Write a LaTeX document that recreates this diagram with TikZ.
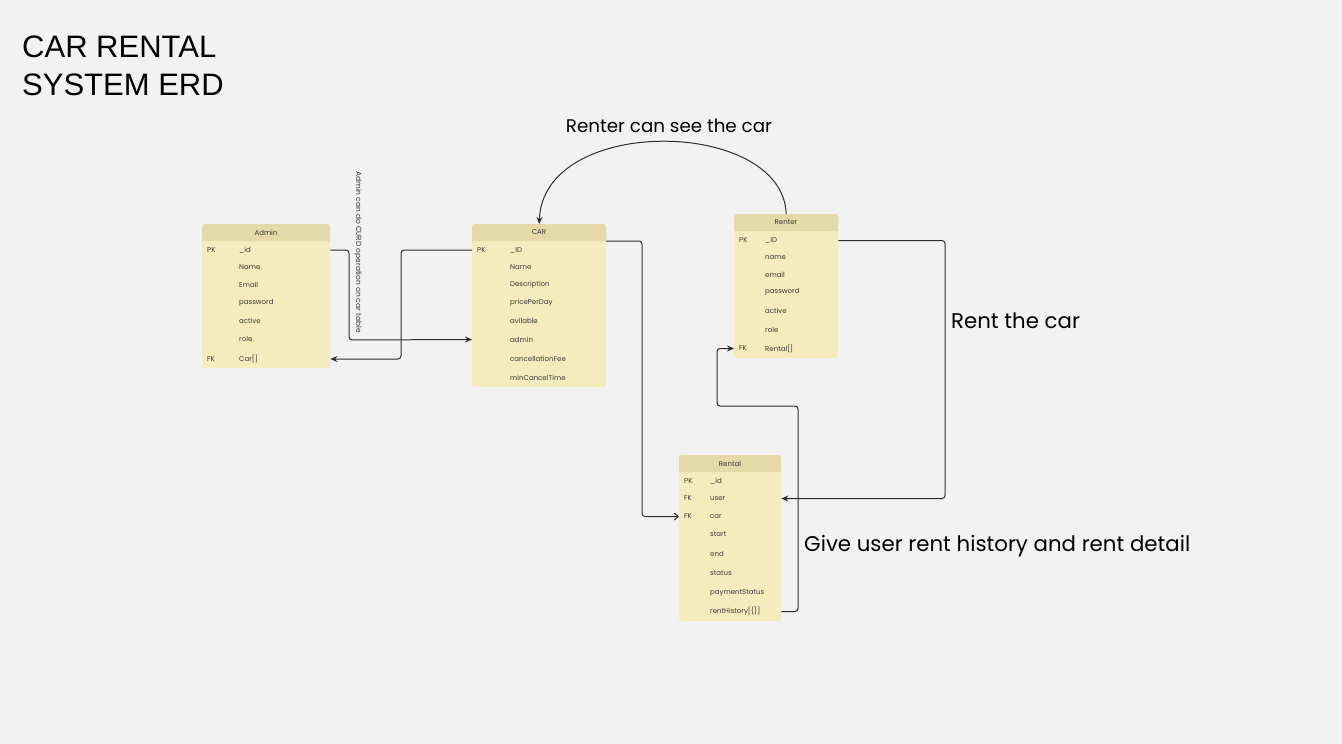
\documentclass[tikz,border=0pt]{standalone}
\usepackage{fontspec}
\setmainfont{Poppins}
\newfontfamily\titlefont{Liberation Sans}
\usetikzlibrary{arrows.meta}
\definecolor{bg}{HTML}{F2F2F2}
\definecolor{body}{HTML}{F6EBBC}
\definecolor{hdr}{HTML}{E4D9A7}
\definecolor{ink}{HTML}{2E2E2E}
\definecolor{txt}{HTML}{3A3A3A}
\tikzset{
  tbl/.style={fill=body, rounded corners=3pt, inner sep=0pt, anchor=north west},
  hdrtxt/.style={font=\fontsize{7}{8}\selectfont, text=txt, inner sep=0pt},
  fld/.style={font=\fontsize{7}{8}\selectfont, text=txt, inner sep=0pt, anchor=west},
  conn/.style={draw=ink, line width=1pt, rounded corners=3pt},
  tip/.style={-{Stealth[length=7pt,width=6pt]}},
  opentip/.style={-{Straight Barb[length=4pt,width=7pt]}},
  lbl/.style={font=\fontsize{21.3}{24}\selectfont, text=black, inner sep=0pt},
  ttl/.style={font=\titlefont\fontsize{31}{38}\selectfont, text=black, inner sep=0pt, anchor=base west},
}
\newcommand{\tblhead}[4]{% x1 y1 x2 y2
  \fill[hdr] (#1,#4) [rounded corners=3pt] -- (#1,#2) -- (#3,#2) [sharp corners] -- (#3,#4) -- cycle;}
\begin{document}
\begin{tikzpicture}[x=1pt,y=-1pt]
\fill[bg] (0,0) rectangle (1342,744);
\useasboundingbox (0,0) rectangle (1342,744);

% title
\node[ttl] (title1) at (22,57) {CAR RENTAL};
\node[ttl] (title2) at (22,95) {SYSTEM ERD};

% ---------- Admin ----------
\node[tbl, minimum width=128pt, minimum height=144pt] (admin) at (202,224) {};
\tblhead{202}{224}{330}{241}
\node[hdrtxt] (adminH) at (266,232.5) {Admin};
\node[fld] (adminPK) at (207,250) {PK};
\node[fld] (adminId) at (239,250) {\_id};
\node[fld] (adminName) at (239,267.5) {Name};
\node[fld] (adminEmail) at (239,285) {Email};
\node[fld] (adminPw) at (239,302.5) {password};
\node[fld] (adminAct) at (239,320.5) {active};
\node[fld] (adminRole) at (239,339) {role};
\node[fld] (adminFK) at (207,359) {FK};
\node[fld] (adminCar) at (239,359) {Car[]};

% ---------- CAR ----------
\node[tbl, minimum width=134pt, minimum height=163pt] (car) at (472,224) {};
\tblhead{472}{224}{606}{241}
\node[hdrtxt] (carH) at (539,232.5) {CAR};
\node[fld] (carPK) at (477,250) {PK};
\node[fld] (carId) at (510,250) {\_ID};
\node[fld] (carName) at (510,267.5) {Name};
\node[fld] (carDesc) at (510,285) {Description};
\node[fld] (carPrice) at (510,302.5) {pricePerDay};
\node[fld] (carAv) at (510,320.5) {avilable};
\node[fld] (carAdmin) at (510,339.5) {admin};
\node[fld] (carFee) at (510,359) {cancellationFee};
\node[fld] (carMin) at (510,378) {minCancelTime};

% ---------- Renter ----------
\node[tbl, minimum width=104pt, minimum height=144pt] (renter) at (734,214) {};
\tblhead{734}{214}{838}{231}
\node[hdrtxt] (renterH) at (786,222.5) {Renter};
\node[fld] (renterPK) at (739,240.5) {PK};
\node[fld] (renterId) at (765,240.5) {\_ID};
\node[fld] (renterName) at (765,257.5) {name};
\node[fld] (renterEmail) at (765,274.5) {email};
\node[fld] (renterPw) at (765,291.5) {password};
\node[fld] (renterAct) at (765,310.5) {active};
\node[fld] (renterRole) at (765,329.5) {role};
\node[fld] (renterFK) at (739,348.5) {FK};
\node[fld] (renterRental) at (765,348.5) {Rental[]};

% ---------- Rental ----------
\node[tbl, minimum width=102pt, minimum height=166pt] (rental) at (679,455) {};
\tblhead{679}{455}{781}{472}
\node[hdrtxt] (rentalH) at (730,463.5) {Rental};
\node[fld] (rentalPK) at (684,481.5) {PK};
\node[fld] (rentalId) at (710,481.5) {\_id};
\node[fld] (rentalFK1) at (684,498.5) {FK};
\node[fld] (rentalUser) at (710,498.5) {user};
\node[fld] (rentalFK2) at (684,516.5) {FK};
\node[fld] (rentalCar) at (710,516.5) {car};
\node[fld] (rentalStart) at (710,534.5) {start};
\node[fld] (rentalEnd) at (710,553.5) {end};
\node[fld] (rentalStatus) at (710,573.5) {status};
\node[fld] (rentalPay) at (710,592.5) {paymentStatus};
\node[fld] (rentalHist) at (710,611.5) {rentHistory[\{\}]};

% ---------- connectors ----------
% Admin _id -> CAR admin
\draw[conn,tip] (admin.east |- adminId) -- (349,250) -- (349,340) -- (car.west |- carAdmin);
% CAR _ID -> Admin Car[]
\draw[conn,tip] (car.west |- carId) -- (401,250) -- (401,359) -- (admin.east |- adminCar);
% CAR -> Rental car
\draw[conn,opentip] (606,241) -- (642,241) -- (642,516.5) -- (rental.west |- rentalCar);
% Renter _ID -> Rental user
\draw[conn,tip] (renter.east |- renterId) -- (945,240.5) -- (945,498.5) -- (rental.east |- rentalUser);
% Rental rentHistory -> Renter Rental[]
\draw[conn,tip] (rental.east |- rentalHist) -- (798,611.5) -- (798,406) -- (717,406) -- (717,348.5) -- (renter.west |- renterRental);
% Renter -> CAR curve
\coordinate (rtop) at (renter.north);
\draw[draw=ink, line width=1pt, tip] (rtop) .. controls (783,118) and (543,114) .. (car.north);

% labels
\node[lbl, font=\fontsize{18.3}{22}\selectfont] (l1) at (669,126) {Renter can see the car};
\node[lbl, anchor=west] (l2) at (951,321) {Rent the car};
\node[lbl, anchor=west] (l3) at (804,546) {Give user rent history and rent detail};
\node[font=\fontsize{7.5}{8}\selectfont, text=txt, inner sep=0pt, rotate=-90] (l4) at (358,252) {Admin can do CURD operation on car table};
\end{tikzpicture}
\end{document}
